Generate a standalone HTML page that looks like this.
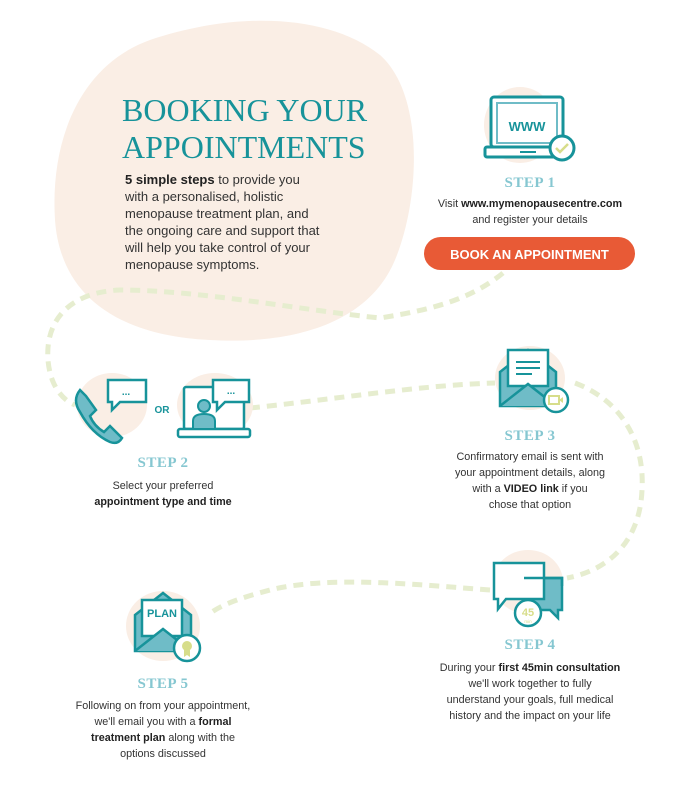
<!DOCTYPE html>
<html><head><meta charset="utf-8"><style>
body{margin:0;background:#fff;}
#c{position:relative;width:680px;height:800px;overflow:hidden;font-family:"Liberation Sans",sans-serif;color:#333;}
.t{position:absolute;text-align:center;font-size:10.8px;line-height:16px;color:#333;white-space:nowrap;}
.s{position:absolute;font-family:"Liberation Serif",serif;font-weight:bold;color:#86c7d1;font-size:15px;text-align:center;letter-spacing:0.5px;}
b{color:#222;}
</style></head><body><div id="c">
<svg width="680" height="800" style="position:absolute;left:0;top:0">
<path d="M150,40 C240,10 330,15 380,55 C425,95 420,200 395,260 C370,320 300,345 210,340 C110,335 60,290 55,220 C50,140 80,65 150,40Z" fill="#faeee5"/>
<path d="M503,273 C470,300 430,310 380,318 C300,310 200,290 120,290 C70,292 45,320 48,360 C50,385 62,400 75,405" fill="none" stroke="#e6edcf" stroke-width="5" stroke-dasharray="10 7"/>
<path d="M250,408 C330,400 420,385 495,383" fill="none" stroke="#e6edcf" stroke-width="5" stroke-dasharray="10 7"/>
<path d="M575,383 C620,400 645,440 642,490 C640,540 610,570 567,578" fill="none" stroke="#e6edcf" stroke-width="5" stroke-dasharray="10 7"/>
<path d="M490,590 C420,585 330,575 270,590 C240,598 220,605 208,615" fill="none" stroke="#e6edcf" stroke-width="5" stroke-dasharray="10 7"/>
<ellipse cx="520" cy="125" rx="36" ry="38" fill="#faeee5"/>
<rect x="491" y="97" width="72" height="50" rx="3" fill="#fff" stroke="#17939a" stroke-width="3"/>
<rect x="497" y="103" width="60" height="40" fill="#fff" stroke="#6fbcc7" stroke-width="2"/>
<rect x="485" y="147" width="84" height="10" rx="2" fill="#fff" stroke="#17939a" stroke-width="3"/>
<line x1="520" y1="152" x2="536" y2="152" stroke="#17939a" stroke-width="2"/>
<text x="527" y="131" font-family="Liberation Sans" font-weight="bold" font-size="13" fill="#17939a" text-anchor="middle">WWW</text>
<circle cx="562" cy="148" r="12" fill="#fff" stroke="#17939a" stroke-width="3"/>
<path d="M556,148 l4,4 l8,-8" fill="none" stroke="#d7dd8a" stroke-width="2.5"/>
<rect x="424" y="237" width="211" height="33" rx="16.5" fill="#e85a36"/>
<text x="529.5" y="259" font-family="Liberation Sans" font-weight="bold" font-size="13" fill="#fff" text-anchor="middle">BOOK AN APPOINTMENT</text>
<ellipse cx="112" cy="405" rx="35" ry="32" fill="#faeee5"/>
<ellipse cx="215" cy="405" rx="38" ry="32" fill="#faeee5"/>
<path d="M80,390 q-8,10 0,22 q12,22 30,30 q8,3 12,-4 l-12,-12 l-6,6 q-10,-6 -14,-16 l6,-6 l-10,-14 z" fill="#6fbcc7" stroke="#17939a" stroke-width="2.5"/>
<path d="M108,380 h38 v22 h-26 l-8,8 v-8 h-4 z" fill="#fff" stroke="#17939a" stroke-width="2.5"/>
<text x="126" y="395" font-size="10" fill="#17939a" text-anchor="middle" font-weight="bold">...</text>
<text x="162" y="413" font-size="10" fill="#17939a" font-weight="bold" text-anchor="middle" font-family="Liberation Sans">OR</text>
<rect x="184" y="387" width="60" height="42" rx="2" fill="#fff" stroke="#17939a" stroke-width="2.5"/>
<rect x="178" y="429" width="72" height="8" rx="2" fill="#fff" stroke="#17939a" stroke-width="2.5"/>
<circle cx="204" cy="406" r="6" fill="#6fbcc7" stroke="#17939a" stroke-width="2"/>
<path d="M193,429 v-8 q0,-7 11,-7 q11,0 11,7 v8z" fill="#6fbcc7" stroke="#17939a" stroke-width="2"/>
<path d="M213,380 h36 v22 h-24 l-8,8 v-8 h-4 z" fill="#fff" stroke="#17939a" stroke-width="2.5"/>
<text x="231" y="394" font-size="10" fill="#17939a" text-anchor="middle" font-weight="bold">...</text>
<ellipse cx="530" cy="378" rx="35" ry="32" fill="#faeee5"/>
<path d="M500,372 l28,-22 l28,22 v34 h-56z" fill="#6fbcc7" stroke="#17939a" stroke-width="2.5"/>
<rect x="508" y="350" width="40" height="36" fill="#fff" stroke="#17939a" stroke-width="2.5"/>
<line x1="516" y1="362" x2="540" y2="362" stroke="#17939a" stroke-width="2"/>
<line x1="516" y1="368" x2="540" y2="368" stroke="#17939a" stroke-width="2"/>
<line x1="516" y1="374" x2="532" y2="374" stroke="#17939a" stroke-width="2"/>
<path d="M500,406 l28,-22 l28,22" fill="#6fbcc7" stroke="#17939a" stroke-width="2.5"/>
<circle cx="556" cy="400" r="12" fill="#fff" stroke="#17939a" stroke-width="2.5"/>
<rect x="549" y="396" width="10" height="8" fill="none" stroke="#d7dd8a" stroke-width="2"/>
<path d="M559,400 l4,-3 v6z" fill="#d7dd8a"/>
<ellipse cx="528" cy="582" rx="35" ry="32" fill="#faeee5"/>
<path d="M524,578 h38 v32 h-4 v8 l-8,-8 h-26z" fill="#6fbcc7" stroke="#17939a" stroke-width="2.5"/>
<path d="M494,563 h50 v36 h-38 l-8,10 v-10 h-4 z" fill="#fff" stroke="#17939a" stroke-width="2.5"/>
<path d="M524,578 h38 v8" fill="none" stroke="#17939a" stroke-width="2.5"/>
<circle cx="528" cy="613" r="13" fill="#fff" stroke="#17939a" stroke-width="2.5"/>
<text x="528" y="616" font-size="11" font-weight="bold" fill="#d7dd8a" text-anchor="middle">45</text>
<text x="528" y="623" font-size="4.5" fill="#d7dd8a" text-anchor="middle">min</text>
<ellipse cx="163" cy="626" rx="37" ry="35" fill="#faeee5"/>
<path d="M135,615 l28,-22 l28,22 v36 h-56z" fill="#6fbcc7" stroke="#17939a" stroke-width="2.5"/>
<rect x="142" y="600" width="40" height="36" fill="#fff" stroke="#17939a" stroke-width="2.5"/>
<text x="162" y="617" font-size="11" font-weight="bold" fill="#17939a" text-anchor="middle">PLAN</text>
<path d="M135,651 l28,-22 l28,22" fill="#6fbcc7" stroke="#17939a" stroke-width="2.5"/>
<circle cx="187" cy="648" r="13" fill="#fff" stroke="#17939a" stroke-width="2.5"/>
<circle cx="187" cy="646" r="5" fill="#d7dd8a"/>
<path d="M184,650 v7 l3,-2 l3,2 v-7" fill="#d7dd8a"/>
</svg>
<div style="position:absolute;left:122px;top:92px;font-family:'Liberation Serif',serif;font-size:32px;line-height:37px;color:#17939a;white-space:nowrap;">BOOKING YOUR<br>APPOINTMENTS</div>
<div style="position:absolute;left:125px;top:171px;font-size:13px;line-height:17px;color:#333;white-space:nowrap;"><b>5 simple steps</b> to provide you<br>with a personalised, holistic<br>menopause treatment plan, and<br>the ongoing care and support that<br>will help you take control of your<br>menopause symptoms.</div>
<div class="s" style="left:480px;top:175px;width:100px;">STEP 1</div>
<div class="t" style="left:420px;top:196px;width:220px;">Visit <b>www.mymenopausecentre.com</b><br>and register your details</div>
<div class="s" style="left:113px;top:455px;width:100px;">STEP 2</div>
<div class="t" style="left:63px;top:478px;width:200px;">Select your preferred<br><b>appointment type and time</b></div>
<div class="s" style="left:480px;top:428px;width:100px;">STEP 3</div>
<div class="t" style="left:430px;top:449px;width:200px;">Confirmatory email is sent with<br>your appointment details, along<br>with a <b>VIDEO link</b> if you<br>chose that option</div>
<div class="s" style="left:480px;top:637px;width:100px;">STEP 4</div>
<div class="t" style="left:425px;top:660px;width:210px;">During your <b>first 45min consultation</b><br>we'll work together to fully<br>understand your goals, full medical<br>history and the impact on your life</div>
<div class="s" style="left:113px;top:676px;width:100px;">STEP 5</div>
<div class="t" style="left:63px;top:698px;width:200px;">Following on from your appointment,<br>we'll email you with a <b>formal</b><br><b>treatment plan</b> along with the<br>options discussed</div>
</div></body></html>
